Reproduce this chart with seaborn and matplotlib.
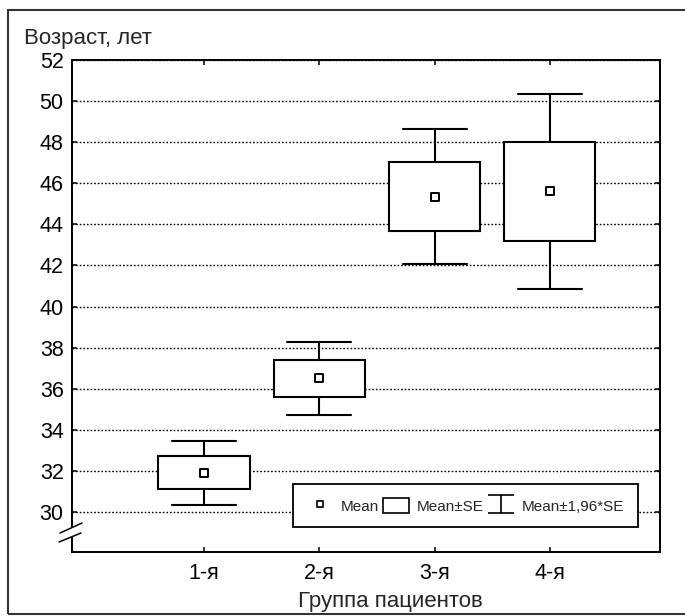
import numpy as np
import pandas as pd
import matplotlib
matplotlib.use("Agg")
import matplotlib.pyplot as plt
import seaborn as sns
from matplotlib.lines import Line2D
from matplotlib.patches import Rectangle
from matplotlib.path import Path

# Группы пациентов: среднее и стандартная ошибка (SE)
groups = ["1-я", "2-я", "3-я", "4-я"]
means = [31.9, 36.5, 45.35, 45.6]
se = [0.8, 0.9, 1.67, 2.42]
z = 1.96

y_ticks = list(range(30, 53, 2))

sns.set_style("ticks")
plt.rcParams['font.family'] = ['Liberation Sans', 'DejaVu Sans']

df = pd.DataFrame({"group": groups, "mean": means, "se": se})
df["pos"] = np.arange(len(df))

fig = plt.figure(figsize=(6.85, 6.16), dpi=100)
ax = fig.add_axes([72 / 685, 1 - 552 / 616, 588 / 685, 492 / 616])

# ящики Mean±SE и усы Mean±1,96*SE
stats = []
for _, r in df.iterrows():
    stats.append(dict(med=r["mean"], q1=r["mean"] - r["se"], q3=r["mean"] + r["se"],
                      whislo=r["mean"] - z * r["se"], whishi=r["mean"] + z * r["se"],
                      fliers=[]))
line_kw = dict(color="black", linewidth=1.5)
ax.bxp(stats, positions=df["pos"], widths=0.79, capwidths=0.555, patch_artist=True,
       boxprops=dict(facecolor="white", edgecolor="black", linewidth=1.5),
       whiskerprops=line_kw, capprops=line_kw, medianprops=dict(visible=False),
       showfliers=False, manage_ticks=False, zorder=3)

sns.scatterplot(data=df, x="pos", y="mean", marker="s", s=26, color="white",
                edgecolor="black", linewidth=1.4, zorder=5, ax=ax, legend=False)

ax.set_xlim(-1.145, 3.955)
ax.set_ylim(28.05, 52)
ax.set_xticks(df["pos"], groups)
ax.set_yticks(y_ticks)
ax.set_axisbelow(True)
ax.yaxis.grid(True, linestyle=(0, (1.2, 1.4)), color="black", linewidth=1.0)
ax.xaxis.grid(False)
ax.tick_params(direction="in", length=3.5, width=1.1, top=True, right=True,
               labelsize=15.5, colors="black")
ax.tick_params(axis="x", pad=8)
ax.tick_params(axis="y", pad=6)

for s in ["top", "right", "bottom"]:
    ax.spines[s].set_linewidth(1.4)
    ax.spines[s].set_color("black")
# разрыв оси Y
ax.spines["left"].set_visible(False)
ax.plot([0, 0], [0, 0.031], transform=ax.transAxes, color="black", lw=1.4, clip_on=False)
ax.plot([0, 0], [0.050, 1], transform=ax.transAxes, color="black", lw=1.4, clip_on=False)
ax.plot([-0.0204, 0.017], [0.0386, 0.0589], transform=ax.transAxes, color="black", lw=1.1, clip_on=False)
ax.plot([-0.022, 0.0153], [0.0203, 0.0386], transform=ax.transAxes, color="black", lw=1.1, clip_on=False)

ax.set_ylabel("")
ax.set_xlabel("Группа пациентов", fontsize=16)
ax.xaxis.label.set_va("baseline")
ax.xaxis.set_label_coords(0.541, -0.112)
fig.text(24 / 685, 1 - 44 / 616, "Возраст, лет", fontsize=16, ha="left", va="baseline")

# легенда
ibeam = Path([(-1, 0.65), (1, 0.65), (0, 0.65), (0, -0.65), (-1, -0.65), (1, -0.65)],
             [Path.MOVETO, Path.LINETO, Path.MOVETO, Path.LINETO, Path.MOVETO, Path.LINETO])
handles = [
    Line2D([], [], marker="s", linestyle="none", markerfacecolor="white",
           markeredgecolor="black", markersize=4.5, markeredgewidth=1.2),
    Rectangle((0, 0), 1, 1, facecolor="white", edgecolor="black", linewidth=1.2),
    Line2D([], [], marker=ibeam, linestyle="none", color="black", markerfacecolor="none",
           markersize=19, markeredgewidth=1.2),
]
leg = ax.legend(handles, ["Mean", "Mean±SE", "Mean±1,96*SE"], ncol=3, loc="center",
                bbox_to_anchor=(0.376, 0.0467, 0.587, 0.0955), mode="expand",
                fontsize=11, frameon=True, fancybox=False, framealpha=1,
                edgecolor="black", borderpad=0.9, handlelength=1.7, handleheight=1.2,
                handletextpad=0.5, columnspacing=0.6, borderaxespad=0)
leg.get_frame().set_linewidth(1.3)

# рамка рисунка
fig.patches.append(Rectangle((8 / 685, 2 / 616), 1.0, 1 - 10 / 616 - 2 / 616,
                             transform=fig.transFigure, fill=False,
                             edgecolor="#333333", linewidth=1.5))

fig.savefig("out.png", dpi=100)
